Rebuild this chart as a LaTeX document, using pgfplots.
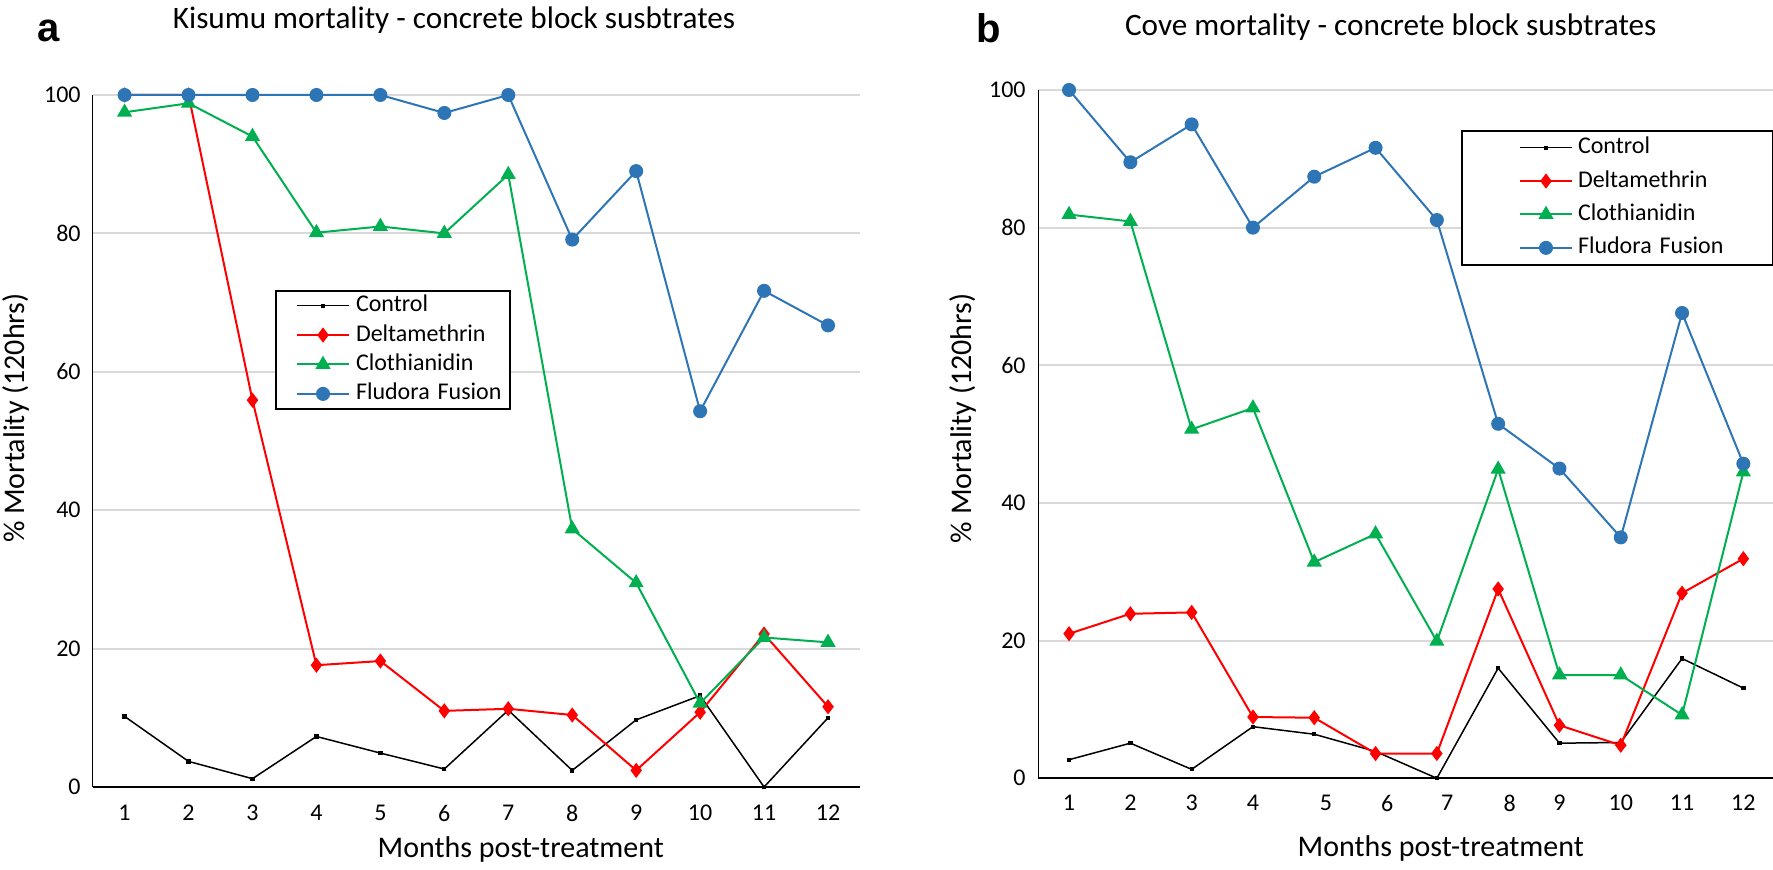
\documentclass[border=0pt]{standalone}
\usepackage{pgfplots}
\usepackage{pgfplotstable}
\pgfplotsset{compat=1.18}
\usepackage{fontspec}
\setmainfont{Carlito}
\newfontfamily\letterfont{Liberation Sans}
\definecolor{cblue}{RGB}{46,117,182}
\definecolor{cgreen}{RGB}{0,176,80}
\definecolor{cred}{RGB}{255,0,0}
\definecolor{cgrid}{RGB}{217,217,217}

\pgfplotstableread{
m  ctrl  delta  cloth  flud
1  10.2  100    97.5   100
2  3.7   100    98.8   100
3  1.2   55.9   94.0   100
4  7.3   17.6   80.1   100
5  4.9   18.2   81.0   100
6  2.6   11.0   80.0   97.4
7  11.1  11.3   88.5   100
8  2.4   10.4   37.3   79.1
9  9.7   2.4    29.5   89.0
10 13.2  10.8   12.1   54.3
11 0.0   22.1   21.6   71.7
12 10.0  11.6   20.9   66.7
}\kisumu

\pgfplotstableread{
m  ctrl  delta  cloth  flud
1  2.7   21.0   81.9   100
2  5.1   23.9   80.9   89.5
3  1.3   24.1   50.7   95.0
4  7.5   8.9    53.8   80.0
5  6.4   8.8    31.4   87.4
6  3.9   3.6    35.5   91.6
7  0.0   3.6    19.9   81.1
8  16.0  27.5   44.9   51.5
9  5.1   7.7    15.0   45.0
10 5.2   4.8    15.0   35.0
11 17.4  26.9   9.2    67.6
12 13.1  31.9   44.5   45.7
}\cove

\pgfplotsset{
  panel/.style={
    scale only axis,
    anchor=south west,
    xmin=0.5, xmax=12.5, ymin=0, ymax=100,
    xtick={1,...,12}, ytick={0,20,...,100},
    axis x line*=bottom, axis y line*=left,
    axis line style={black, line width=0.85pt, -},
    major tick length=0pt,
    ymajorgrids, grid style={cgrid, line width=1pt},
    clip=false,
    every axis title shift=0pt,
    /pgf/number format/assume math mode=true,
    tick label style={font=\fontsize{12}{14}\selectfont, inner sep=0pt},
    xticklabel style={anchor=north},
    yticklabel style={anchor=east},
    title style={font=\fontsize{15.6}{18}\selectfont, anchor=base},
    xlabel style={font=\fontsize{15}{18}\selectfont, anchor=base},
    ylabel style={font=\fontsize{15}{18}\selectfont, anchor=base},
    legend cell align=left,
  },
  sctrl/.style={black, line width=0.75pt, mark=square*, mark size=0.7pt, mark options={solid}},
  sdelta/.style={cred, line width=1pt, mark=diamond*, mark size=3pt, mark options={solid}},
  scloth/.style={cgreen, line width=1pt, mark=triangle*, mark size=3.4pt, mark options={solid}},
  sflud/.style={cblue, line width=1pt, mark=*, mark size=3pt, mark options={solid}},
}

\begin{document}
\begin{tikzpicture}
\useasboundingbox (0,0) rectangle (886.5pt,435pt);

\begin{axis}[panel,
  at={(46.3pt,41.5pt)}, width=383.7pt, height=346pt,
  xticklabel style={yshift=-9pt},
  yticklabel style={xshift=-5.8pt},
  title={Kisumu mortality - concrete block susbtrates},
  title style={at={(0.471,1.0954)}},
  xlabel={Months post-treatment},
  xlabel style={at={(0.558,-0.1012)}},
  ylabel={\% Mortality (120hrs)},
  ylabel style={at={(-0.0884,0.533)}},
  legend style={at={(0.2377,0.7182)}, anchor=north west, draw=black, line width=1pt,
    inner xsep=0pt, inner ysep=0pt, row sep=0pt, font=\fontsize{12}{14}\selectfont,
    nodes={inner xsep=3pt, inner ysep=1.85pt, text height=8.5pt, text depth=2.5pt, text width=74pt, align=left}},
  legend image code/.code={\path (-10pt,0pt); \draw[#1, mark repeat=2, mark phase=2] plot coordinates {(0pt,0pt) (13pt,0pt) (26pt,0pt)};},
]
\addplot[sctrl] table[x=m, y=ctrl] {\kisumu};
\addplot[sdelta] table[x=m, y=delta] {\kisumu};
\addplot[scloth] table[x=m, y=cloth] {\kisumu};
\addplot[sflud] table[x=m, y=flud] {\kisumu};
\legend{Control, Deltamethrin, Clothianidin, Fludora Fusion}
\end{axis}

\begin{axis}[panel,
  at={(519.2pt,45.85pt)}, width=367.8pt, height=344.15pt,
  xtick={1,2,3,4,5.19,6.19,7.17,8.19,9,10,11,12},
  xticklabels={1,2,3,4,5,6,7,8,9,10,11,12},
  xticklabel style={yshift=-8.3pt},
  yticklabel style={xshift=-6.2pt},
  title={Cove mortality - concrete block susbtrates},
  title style={at={(0.479,1.0785)}},
  xlabel={Months post-treatment},
  xlabel style={at={(0.547,-0.1143)}},
  ylabel={\% Mortality (120hrs)},
  ylabel style={at={(-0.0903,0.523)}},
  legend style={at={(0.5745,0.9419)}, anchor=north west, draw=black, line width=1pt,
    inner xsep=0pt, inner ysep=0pt, row sep=0pt, font=\fontsize{12}{14}\selectfont,
    nodes={inner xsep=2.5pt, inner ysep=2.85pt, text height=8.5pt, text depth=2.5pt, text width=95pt, align=left}},
  legend image code/.code={\path (-28.5pt,0pt); \draw[#1, mark repeat=2, mark phase=2] plot coordinates {(0pt,0pt) (13pt,0pt) (26pt,0pt)};},
]
\addplot[sctrl] table[x=m, y=ctrl] {\cove};
\addplot[sdelta] table[x=m, y=delta] {\cove};
\addplot[scloth] table[x=m, y=cloth] {\cove};
\addplot[sflud] table[x=m, y=flud] {\cove};
\legend{Control, Deltamethrin, Clothianidin, Fludora Fusion}
\end{axis}

\node[anchor=base west, inner sep=0pt, font=\letterfont\bfseries\fontsize{20}{24}\selectfont] at (18.8pt,414pt) {a};
\node[anchor=base west, inner sep=0pt, font=\letterfont\bfseries\fontsize{20}{24}\selectfont] at (488pt,413.6pt) {b};
\end{tikzpicture}
\end{document}
